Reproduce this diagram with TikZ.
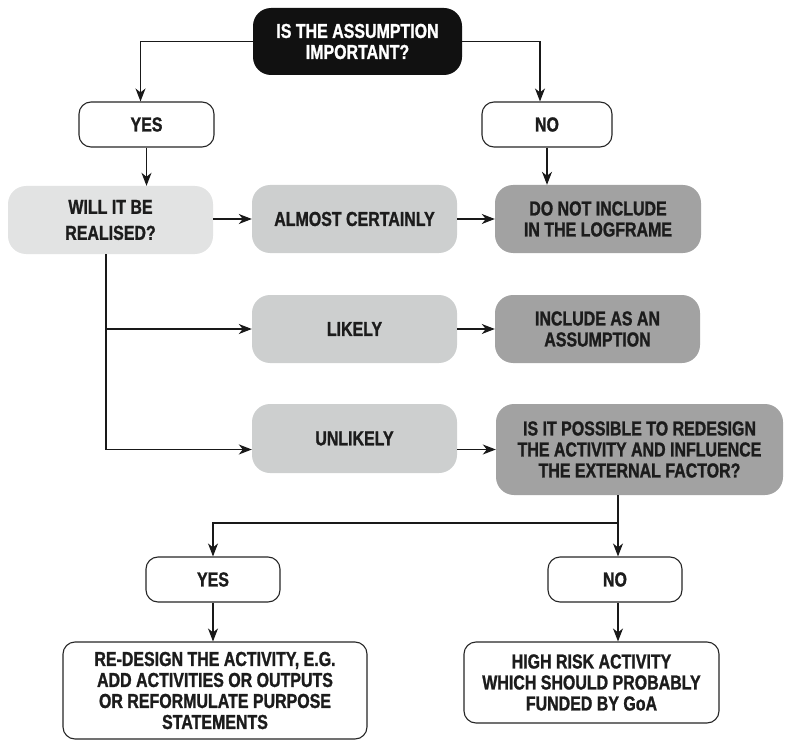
\documentclass[tikz,border=0pt]{standalone}
\usepackage{fontspec}
\newfontfamily\condfont{Liberation Sans Bold}[FakeStretch=0.79,FakeBold=1.2]
\usetikzlibrary{arrows.meta}

\definecolor{txt}{HTML}{1C1C1C}
\definecolor{darkfill}{HTML}{111111}
\definecolor{palefill}{HTML}{E2E3E3}
\definecolor{midfill}{HTML}{CDCFCF}
\definecolor{greyfill}{HTML}{A2A2A2}

\begin{document}
\begin{tikzpicture}[x=1pt,y=-1pt,
  label/.style={rectangle, align=center, inner sep=0pt, text=txt,
    font=\condfont\fontsize{20.2}{21}\selectfont},
  answer/.style={label, draw=black!85, line width=1.1pt, fill=white,
    rounded corners=12pt},
  question/.style={label, fill=darkfill, text=white, rounded corners=18pt},
  palebox/.style={label, fill=palefill, rounded corners=18pt},
  midbox/.style={label, fill=midfill, rounded corners=18pt},
  greybox/.style={label, fill=greyfill, rounded corners=18pt},
  link/.style={draw=black!90, line width=1.2pt},
  arr/.style={link, -{Stealth[length=13pt,width=10pt,inset=4pt]}}]

\useasboundingbox (0,0) rectangle (785,741);

% first question and its two answers
\node[question, minimum width=209, minimum height=67] (top) at (357.5,41.5)
  {IS THE ASSUMPTION\\IMPORTANT?};
\node[answer, minimum width=135, minimum height=45] (yesA) at (146.5,124.5) {YES};
\node[answer, minimum width=130, minimum height=45] (noA) at (547,124.5) {NO};

% likelihood row
\node[palebox, minimum width=205, minimum height=68] (will) at (110.5,220)
  {WILL IT BE\\[5pt]REALISED?};
\node[midbox, minimum width=205, minimum height=68] (almost) at (354.5,219)
  {ALMOST CERTAINLY};
\node[greybox, minimum width=206, minimum height=68] (donot) at (598,219)
  {DO NOT INCLUDE\\IN THE LOGFRAME};
\node[midbox, minimum width=205, minimum height=68] (likely) at (354.5,329)
  {LIKELY};
\node[greybox, minimum width=205, minimum height=68] (include) at (597.5,329)
  {INCLUDE AS AN\\ASSUMPTION};
\node[midbox, minimum width=205, minimum height=69] (unlikely) at (354.5,438.5)
  {UNLIKELY};
\node[greybox, minimum width=287, minimum height=91] (redesignq) at (639.5,449.5)
  {IS IT POSSIBLE TO REDESIGN\\THE ACTIVITY AND INFLUENCE\\THE EXTERNAL FACTOR?};

% second pair of answers and outcomes
\node[answer, minimum width=134, minimum height=45] (yesB) at (213,579.5) {YES};
\node[answer, minimum width=134, minimum height=45] (noB) at (615,579.5) {NO};
\node[answer, minimum width=304, minimum height=97] (redesign) at (215,690.5)
  {RE-DESIGN THE ACTIVITY, E.G.\\ADD ACTIVITIES OR OUTPUTS\\OR REFORMULATE PURPOSE\\STATEMENTS};
\node[answer, minimum width=255, minimum height=81] (highrisk) at (591.5,682.5)
  {HIGH RISK ACTIVITY\\WHICH SHOULD PROBABLY\\FUNDED BY GoA};

% connectors
\draw[arr] (top.west) -| ([xshift=-6]yesA.north);
\draw[arr] (top.east) -| ([xshift=-7]noA.north);
\draw[arr] (yesA.south) -- (yesA.south |- will.north);
\draw[arr] (noA.south) -- (noA.south |- donot.north);
\draw[arr] (will.east |- almost.west) -- (almost.west);
\draw[arr] (almost.east) -- (donot.west);

\coordinate (trunk) at ([xshift=-4.5]will.south);
\coordinate (trunkend) at (trunk |- redesignq.west);
\draw[link] (trunk) -- (trunkend);
\draw[arr] (trunk |- likely.west) -- (likely.west);
\draw[arr] (trunkend) -- (unlikely.west |- redesignq.west);
\draw[arr] (likely.east) -- (include.west);
\draw[arr] (unlikely.east |- redesignq.west) -- (redesignq.west);

\coordinate (split) at ([xshift=3]noB.north |- 0,523);
\draw[arr] ([xshift=3]noB.north |- redesignq.south) -- ([xshift=3]noB.north);
\draw[arr] (split) -| (yesB.north);
\draw[arr] (yesB.south) -- (yesB.south |- redesign.north);
\draw[arr] ([xshift=3]noB.south) -- ([xshift=3]noB.south |- highrisk.north);
\end{tikzpicture}
\end{document}
